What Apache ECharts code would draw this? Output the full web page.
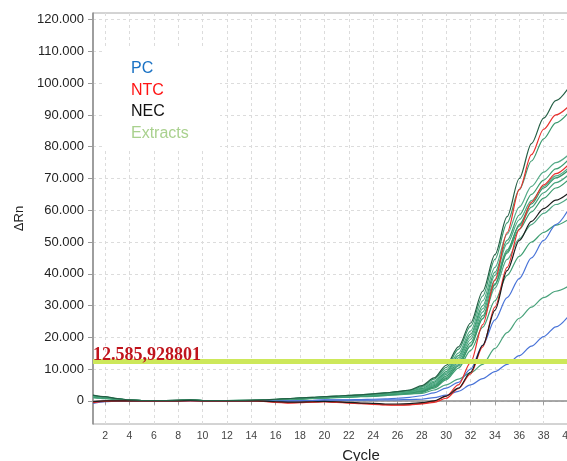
<!DOCTYPE html>
<html>
<head>
<meta charset="utf-8">
<script src="https://cdn.jsdelivr.net/npm/echarts@6.0.0/dist/echarts.min.js"></script>
<style>
  html, body { margin: 0; padding: 0; background: #fff; }
  #chart { width: 567px; height: 461px; }
</style>
</head>
<body>
<div id="chart"></div>
<script>
// Amplification plot: ΔRn per cycle for extracts, positive, no-template and negative-extraction controls.
const cycles = [1,2,3,4,5,6,7,8,9,10,11,12,13,14,15,16,17,18,19,20,21,22,23,24,25,26,27,28,29,30,31,32,33,34,35,36,37,38,39,40];
const xTickValues = [2,4,6,8,10,12,14,16,18,20,22,24,26,28,30,32,34,36,38,40];
const yTickValues = [0,10,20,30,40,50,60,70,80,90,100,110,120];
const thresholdValue = 12.585928801;

// Extracts (ΔRn, thousands)
const ext01 = [1.8,1.3,0.7,0.3,0.1,0.1,0.1,0.2,0.3,0.1,0.1,0.1,0.1,0.2,0.3,0.5,0.7,0.9,1.1,1.3,1.5,1.7,1.9,2.2,2.5,2.9,3.4,4.8,7.2,11.2,17,24.5,34.5,46,58,70,81,89,94.5,98.3];
const ext02 = [1.6,1.2,0.7,0.3,0.1,0.1,0.1,0.2,0.3,0.1,0.1,0.1,0.2,0.2,0.3,0.5,0.7,0.9,1.1,1.3,1.5,1.7,1.9,2.2,2.5,2.9,3.3,4.5,6.8,10.5,16.2,23.5,33,44.5,56,66.5,75.5,82.5,87.5,90.5];
const ext03 = [1.5,1.1,0.6,0.2,0.1,0.0,0.1,0.1,0.2,0.1,0.0,0.1,0.1,0.1,0.2,0.4,0.6,0.8,1.0,1.2,1.4,1.6,1.8,2.0,2.4,2.8,3.2,4.2,6.2,9.8,15,22,31.5,42,52.5,61,67.5,72,75,77.3];
const ext04 = [1.4,1.0,0.5,0.2,0.1,0.0,0.1,0.1,0.2,0.1,0.0,0.1,0.1,0.1,0.2,0.4,0.6,0.8,1.0,1.2,1.3,1.5,1.7,1.9,2.2,2.6,3.0,3.9,5.8,9.2,14.2,21,30,40.5,50.5,58.5,65,69.5,73,75.8];
const ext05 = [1.7,1.2,0.6,0.2,0.1,0.1,0.1,0.1,0.3,0.1,0.1,0.1,0.1,0.1,0.2,0.4,0.6,0.8,1.0,1.1,1.3,1.5,1.6,1.8,2.1,2.4,2.8,3.6,5.4,8.7,13.5,20.2,29,39.5,49.5,57,63,67.5,70.8,73.2];
const ext06 = [1.2,0.9,0.4,0.1,0.0,0.0,0.0,0.1,0.2,0.0,0.0,0.0,0.0,0.1,0.2,0.3,0.5,0.7,0.9,1.0,1.2,1.4,1.5,1.7,2.0,2.3,2.7,3.4,5.1,8.3,12.8,19.3,28,38,47.5,55,61,65.5,68.7,71];
const ext07 = [1.3,1.0,0.5,0.1,0.0,0.0,0.0,0.1,0.2,0.0,0.0,0.0,0.0,0.1,0.2,0.3,0.5,0.6,0.8,1.0,1.1,1.3,1.4,1.6,1.9,2.2,2.6,3.2,4.8,7.8,12,18.3,26.8,36.8,46.5,54,59.5,63.8,67,69.5];
const ext08 = [1.1,0.8,0.4,0.1,0.0,0.0,0.0,0.1,0.2,0.0,0.0,0.0,0.0,0.1,0.1,0.3,0.4,0.6,0.8,0.9,1.1,1.2,1.4,1.6,1.8,2.1,2.5,3.0,4.5,7.3,11.4,17.5,25.8,35.5,44.5,51,55.5,59,61.8,63.8];
const ext09 = [1.0,0.7,0.3,0.1,0.0,0.0,0.0,0.0,0.1,0.0,0.0,0.0,0.0,0.0,0.1,0.2,0.4,0.5,0.7,0.8,1.0,1.1,1.3,1.4,1.6,1.9,2.2,2.6,4.0,6.6,10.3,15.8,23.2,31.5,39.5,45.5,50,53,55.3,57];
const ext10 = [1.4,1.0,0.5,0.2,0.1,0.0,0.1,0.1,0.2,0.1,0.0,0.0,0.1,0.1,0.2,0.3,0.5,0.7,0.9,1.0,1.1,1.3,1.5,1.7,1.9,2.2,2.5,2.9,4.3,7,11,17.2,26,36.5,47,55.5,62,67,70.2,72.5];
const ext11 = [1.2,0.9,0.5,0.1,0.0,0.0,0.0,0.1,0.2,0.0,0.0,0.0,0.0,0.1,0.2,0.3,0.5,0.6,0.8,1.0,1.1,1.3,1.4,1.6,1.8,2.0,2.2,2.3,3.4,5,6.8,8.8,11.5,16.5,21.5,26,29.5,32.5,34.5,36];

// Positive controls
const pc1 = [-0.8,-0.3,0.0,0.0,0.0,0.0,0.0,0.0,0.1,0.0,0.0,0.0,0.0,0.0,0.0,-0.2,-0.1,0.0,0.1,0.3,0.3,0.3,0.4,0.5,0.6,0.8,1.1,1.6,2.5,4,5.8,10,17.5,25.5,32.5,38.5,45,50.5,55.5,60];
const pc2 = [-0.5,-0.2,0.0,0.0,0.0,0.0,0.0,0.0,0.0,0.0,0.0,0.0,0.0,0.0,0.0,-0.1,0.0,0.0,0.1,0.2,0.2,0.2,0.2,0.2,0.3,0.3,0.4,0.5,1,1.8,3,5,7,9.2,11.5,14.2,17.2,20.2,23.3,26.5];

// No-template controls
const ntc1 = [-0.6,-0.2,0.0,0.0,0.0,0.0,0.0,0.0,0.1,0.0,0.0,0.0,0.0,0.0,-0.2,-0.5,-0.7,-0.6,-0.4,-0.3,-0.4,-0.6,-0.8,-1.0,-1.2,-1.3,-1.2,-0.8,-0.2,1.5,5,12,24,38,53,66.5,77.5,85.5,90,92.5];
const ntc2 = [-0.4,-0.1,0.0,0.0,0.0,0.0,0.0,0.0,0.0,0.0,0.0,0.0,0.0,0.0,-0.1,-0.4,-0.6,-0.5,-0.4,-0.3,-0.5,-0.7,-0.9,-1.1,-1.3,-1.4,-1.3,-1.0,-0.5,0.8,3.8,8.5,17,29.5,42,54,62.5,68,71.5,74.2];

// Negative extraction control
const nec1 = [-0.3,0.0,0.0,0.0,0.0,0.0,0.0,0.0,0.1,0.0,0.0,0.0,0.0,0.0,-0.1,-0.3,-0.4,-0.4,-0.3,-0.2,-0.3,-0.5,-0.7,-0.8,-1.0,-1.0,-0.9,-0.6,0.0,1.5,4,9,17.5,28.5,41,50.5,56.5,60.5,63.2,65.3];

const legendItems = ['PC', 'NTC', 'NEC', 'Extracts'];
const legendColors = ['#1a72c4', '#ff1414', '#111111', '#a9d18e'];

const extractSet = [
  [ext11, '#4aa37c'], [ext09, '#3f9f73'], [ext08, '#52a886'], [ext07, '#3a9a6c'],
  [ext06, '#48a47e'], [ext10, '#36966a'], [ext05, '#4fa985'], [ext04, '#3c9d70'],
  [ext03, '#55ab88'], [ext02, '#3a9a6e']
];

function pairs(values) {
  return values.map((v, i) => [cycles[i], v]);
}

function curve(values, color, z) {
  return {
    type: 'line',
    data: pairs(values),
    showSymbol: false,
    symbol: 'none',
    smooth: 0.3,
    smoothMonotone: 'x',
    silent: true,
    z: z,
    lineStyle: { color: color, width: 1.2 }
  };
}

function thresholdText(v) {
  const s = v.toFixed(9);
  const dot = s.indexOf('.');
  return s.slice(0, dot + 4) + ',' + s.slice(dot + 4);
}

const series = [];
extractSet.forEach(([vals, col]) => series.push(curve(vals, col, 2)));
series.push(curve(pc2, '#4a74d8', 3));
series.push(curve(pc1, '#4a74d8', 3));
series.push(curve(ntc2, '#e8302d', 3));
series.push(curve(ntc1, '#e8302d', 3));
series.push(curve(nec1, '#1c1c1c', 3));
series.push(curve(ext01, '#245f45', 4));
series.push({
  type: 'line',
  data: [],
  silent: true,
  z: 10,
  markLine: {
    silent: true,
    symbol: 'none',
    animation: false,
    lineStyle: { color: '#cde85a', width: 5, type: 'solid', opacity: 1 },
    label: {
      show: true,
      position: 'insideStartTop',
      distance: [0, -4],
      formatter: () => thresholdText(thresholdValue),
      color: '#c0141c',
      fontFamily: 'Liberation Serif, Times New Roman, serif',
      fontWeight: 'bold',
      fontSize: 18
    },
    data: [{ yAxis: thresholdValue }]
  }
});

const legendGraphics = [{
  type: 'rect',
  shape: { x: 104, y: 48, width: 116, height: 102 },
  style: { fill: '#ffffff' },
  z: 50
}];
legendItems.forEach((name, i) => {
  legendGraphics.push({
    type: 'text',
    x: 131,
    y: 69 + i * 21.4,
    z: 51,
    style: {
      text: name,
      fill: legendColors[i],
      font: '16px "Liberation Sans", Arial, sans-serif',
      verticalAlign: 'middle'
    }
  });
});

const chart = echarts.init(document.getElementById('chart'), null, { renderer: 'canvas' });
chart.setOption({
  animation: false,
  backgroundColor: '#ffffff',
  textStyle: { fontFamily: '"Liberation Sans", Arial, sans-serif' },
  grid: {
    left: 93, top: 13, width: 475, height: 411,
    outerBoundsMode: 'none',
    containLabel: false,
    show: true, borderColor: '#a8a8a8', borderWidth: 1
  },
  xAxis: {
    type: 'value',
    min: 1,
    max: 40,
    name: 'Cycle',
    nameLocation: 'middle',
    nameGap: 24,
    nameTextStyle: { color: '#222', fontSize: 15, padding: [0, 0, 0, 61] },
    axisLine: { show: true, lineStyle: { color: '#8c8c8c', width: 1.5 } },
    axisTick: { show: true, length: 4, customValues: xTickValues, lineStyle: { color: '#9a9a9a' } },
    axisLabel: { customValues: xTickValues, color: '#444', fontSize: 10.5, margin: 7 },
    splitLine: { show: true, lineStyle: { color: '#dcdcdc', type: [3, 3], width: 1 } }
  },
  yAxis: {
    type: 'value',
    min: -7.3,
    max: 122.1,
    name: 'ΔRn',
    nameLocation: 'middle',
    nameGap: 67,
    nameTextStyle: { color: '#222', fontSize: 13 },
    axisLine: { show: true, lineStyle: { color: '#8c8c8c', width: 1.5 } },
    axisTick: { show: true, length: 5, customValues: yTickValues, lineStyle: { color: '#9a9a9a' } },
    axisLabel: {
      customValues: yTickValues,
      color: '#222',
      fontSize: 13,
      margin: 9,
      formatter: v => (v === 0 ? '0' : v.toFixed(3))
    },
    splitLine: { show: true, lineStyle: { color: '#dcdcdc', type: [3, 3], width: 1 } }
  },
  graphic: legendGraphics,
  series: series
});
</script>
</body>
</html>
